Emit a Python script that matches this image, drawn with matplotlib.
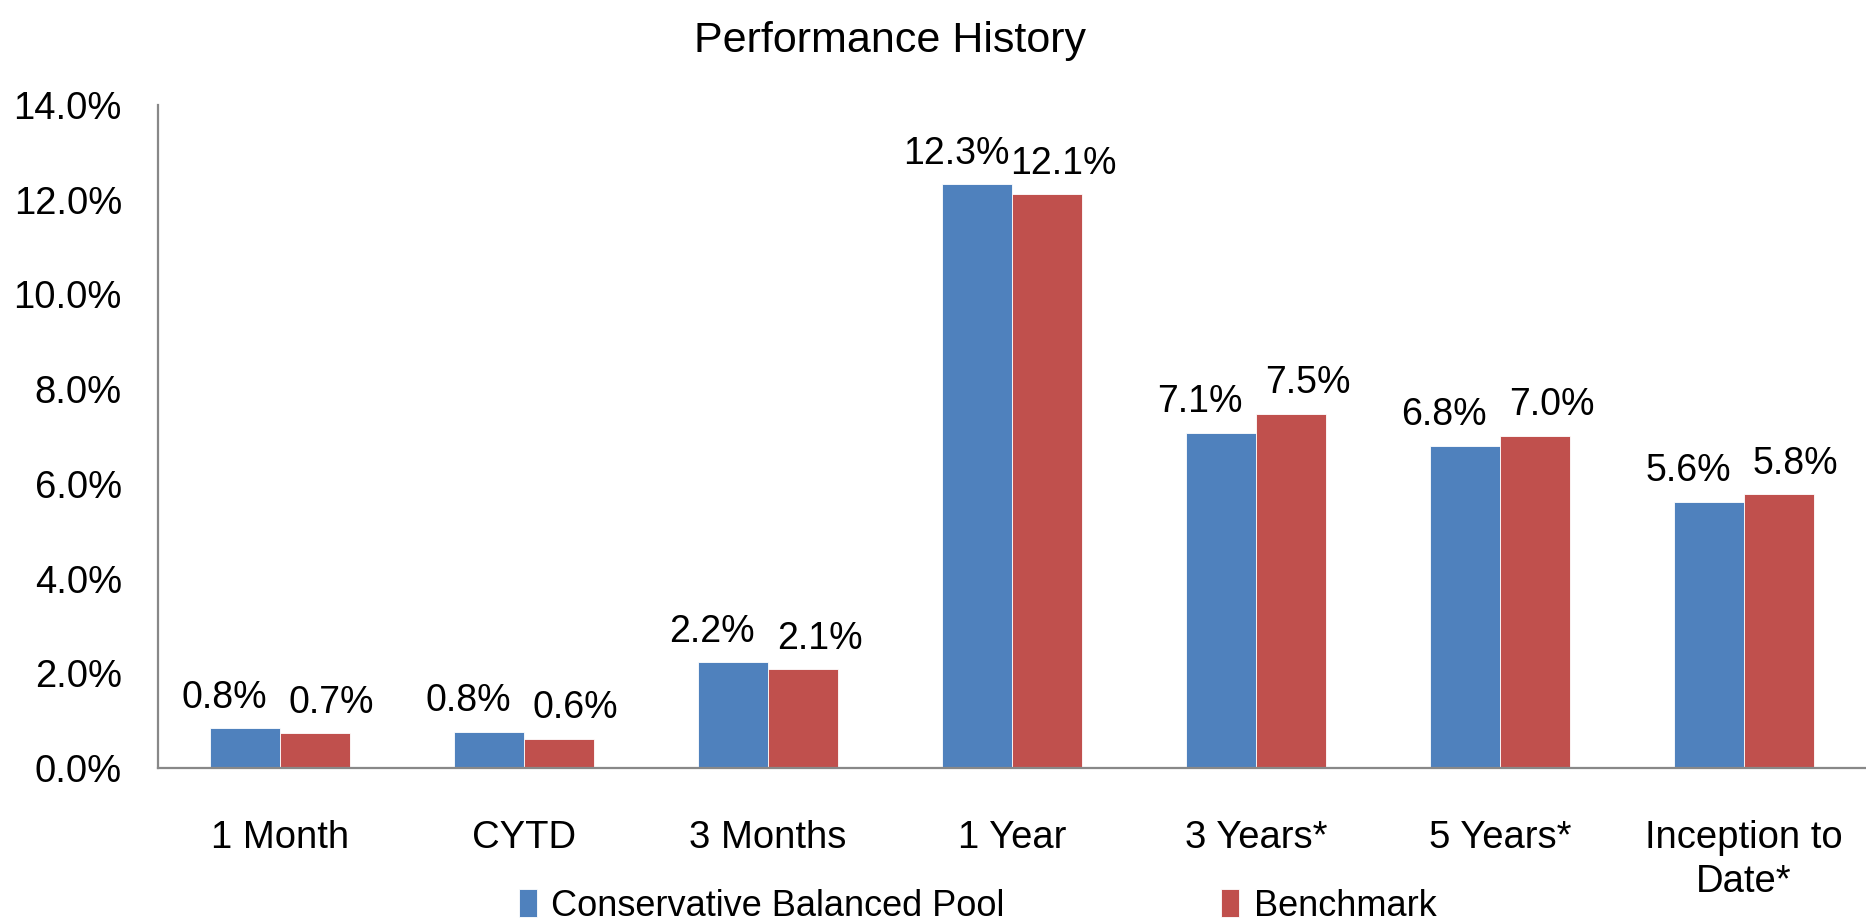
import matplotlib
matplotlib.use("Agg")
import matplotlib.pyplot as plt
import numpy as np

plt.rcParams['font.family'] = ['Liberation Sans', 'DejaVu Sans']

categories = ['1 Month', 'CYTD', '3 Months', '1 Year', '3 Years*', '5 Years*', 'Inception to\nDate*']
pool = [0.84, 0.77, 2.24, 12.33, 7.08, 6.81, 5.62]
bench = [0.74, 0.62, 2.09, 12.12, 7.48, 7.02, 5.78]
series_names = ['Conservative Balanced Pool', 'Benchmark']
yticks = [0, 2, 4, 6, 8, 10, 12, 14]

fig = plt.figure(figsize=(18.66, 9.21), dpi=100)
ax = fig.add_axes([0.0847, 0.166, 0.9153, 0.72])

x = np.arange(len(categories))
w = 1 / 3.5
b1 = ax.bar(x - w / 2, pool, w, color='#4F81BD', edgecolor='white', linewidth=0.6, label=series_names[0])
b2 = ax.bar(x + w / 2, bench, w, color='#C0504D', edgecolor='white', linewidth=0.6, label=series_names[1])

# data labels, nudged apart like the original
for bars, dx in ((b1, -15), (b2, 12)):
    for r in bars:
        h = r.get_height()
        ax.annotate(f'{h:.1f}%', (r.get_x() + r.get_width() / 2, h),
                    xytext=(dx, 9), textcoords='offset points',
                    ha='center', va='bottom', fontsize=27)

ax.set_xlim(-0.5, len(categories) - 0.5)
ax.set_ylim(0, 14)
ax.set_yticks(yticks)
ax.set_yticklabels([f'{v:.1f}%' for v in yticks])
ax.set_xticks(x)
ax.set_xticklabels(categories, linespacing=1.3)
ax.tick_params(axis='both', length=0, labelsize=27.5)
ax.tick_params(axis='y', pad=26)
ax.tick_params(axis='x', pad=37)

for s in ['top', 'right']:
    ax.spines[s].set_visible(False)
for s in ['left', 'bottom']:
    ax.spines[s].set_color('#888888')
    ax.spines[s].set_linewidth(1.6)

fig.text(0.477, 0.955, 'Performance History', ha='center', va='center', fontsize=31)

fig.legend(loc='center', bbox_to_anchor=(0.524, 0.016), ncol=2, frameon=False,
           fontsize=26, handlelength=0.5, handleheight=0.8, handletextpad=0.4,
           columnspacing=6.0)

fig.savefig('out.png', dpi=100)
